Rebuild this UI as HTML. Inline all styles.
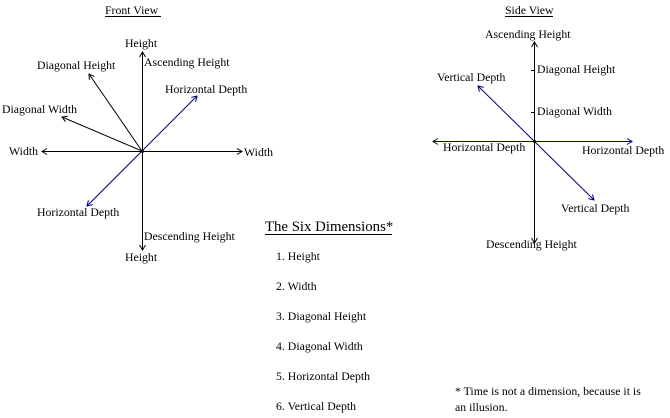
<!DOCTYPE html>
<html><head><meta charset="utf-8"><style>
html,body{margin:0;padding:0;background:#fff;}
svg{display:block;}
text{font-family:"Liberation Serif",serif;font-size:11.8px;fill:#000;}
</style></head><body>
<svg width="670" height="418" viewBox="0 0 670 418" xmlns="http://www.w3.org/2000/svg">
<defs>
<marker id="a" markerWidth="8" markerHeight="8" refX="6" refY="4" orient="auto" markerUnits="userSpaceOnUse"><path d="M1,1 L6,4 L1,7" fill="none" stroke="#000" stroke-width="1"/></marker>
<marker id="b" markerWidth="8" markerHeight="8" refX="6" refY="4" orient="auto" markerUnits="userSpaceOnUse"><path d="M1,1 L6,4 L1,7" fill="none" stroke="#000080" stroke-width="1"/></marker>
</defs>
<g stroke="#000" stroke-width="1" fill="none">
<line x1="142.5" y1="151" x2="142.5" y2="52" marker-end="url(#a)"/>
<line x1="142.5" y1="151" x2="142.5" y2="250" marker-end="url(#a)"/>
<line x1="142" y1="151.5" x2="42" y2="151.5" marker-end="url(#a)"/>
<line x1="142" y1="151.5" x2="242" y2="151.5" marker-end="url(#a)"/>
<line x1="142" y1="151" x2="89" y2="74" marker-end="url(#a)"/>
<line x1="142" y1="151" x2="62" y2="117" marker-end="url(#a)"/>
<line x1="534.5" y1="141" x2="534.5" y2="42" marker-end="url(#a)"/>
<line x1="534.5" y1="141" x2="534.5" y2="243" marker-end="url(#a)"/>
<line x1="531" y1="70.5" x2="534" y2="70.5"/>
<line x1="531" y1="112.5" x2="534" y2="112.5"/>
</g>
<g stroke="#000080" stroke-width="1" fill="none">
<line x1="142" y1="151" x2="197" y2="96" marker-end="url(#b)"/>
<line x1="142" y1="151" x2="87" y2="206" marker-end="url(#b)"/>
<line x1="534" y1="141.5" x2="433" y2="141.5" marker-end="url(#b)"/>
<line x1="534" y1="141.5" x2="632" y2="141.5" marker-end="url(#b)"/>
<line x1="534" y1="141" x2="478" y2="86" marker-end="url(#b)"/>
<line x1="534" y1="141" x2="594" y2="200" marker-end="url(#b)"/>
</g>
<circle cx="142.5" cy="151.5" r="1.5" fill="#000"/>
<circle cx="534.5" cy="141.5" r="1.5" fill="#000"/>
<text x="105" y="14">Front View</text>
<line x1="105" y1="16.5" x2="161" y2="16.5" stroke="#000"/>
<text x="125" y="47">Height</text>
<text x="144" y="66">Ascending Height</text>
<text x="37" y="69">Diagonal Height</text>
<text x="165" y="93">Horizontal Depth</text>
<text x="2" y="113">Diagonal Width</text>
<text x="9" y="155">Width</text>
<text x="244" y="156">Width</text>
<text x="37" y="216">Horizontal Depth</text>
<text x="144" y="240">Descending Height</text>
<text x="125" y="261">Height</text>
<text x="505" y="14">Side View</text>
<line x1="505" y1="16.5" x2="553" y2="16.5" stroke="#000"/>
<text x="485" y="38">Ascending Height</text>
<text x="537" y="73">Diagonal Height</text>
<text x="437" y="81">Vertical Depth</text>
<text x="537" y="115">Diagonal Width</text>
<text x="443" y="151">Horizontal Depth</text>
<text x="582" y="154">Horizontal Depth</text>
<text x="561" y="212">Vertical Depth</text>
<text x="486" y="248">Descending Height</text>
<text x="265" y="231" style="font-size:14.8px">The Six Dimensions*</text>
<line x1="265" y1="234.5" x2="392" y2="234.5" stroke="#000"/>
<text x="276" y="260">1. Height</text>
<text x="276" y="290">2. Width</text>
<text x="276" y="320">3. Diagonal Height</text>
<text x="276" y="350">4. Diagonal Width</text>
<text x="276" y="380">5. Horizontal Depth</text>
<text x="276" y="410">6. Vertical Depth</text>
<text x="455" y="395">* Time is not a dimension, because it is</text>
<text x="455" y="411">an illusion.</text>
</svg>
</body></html>
